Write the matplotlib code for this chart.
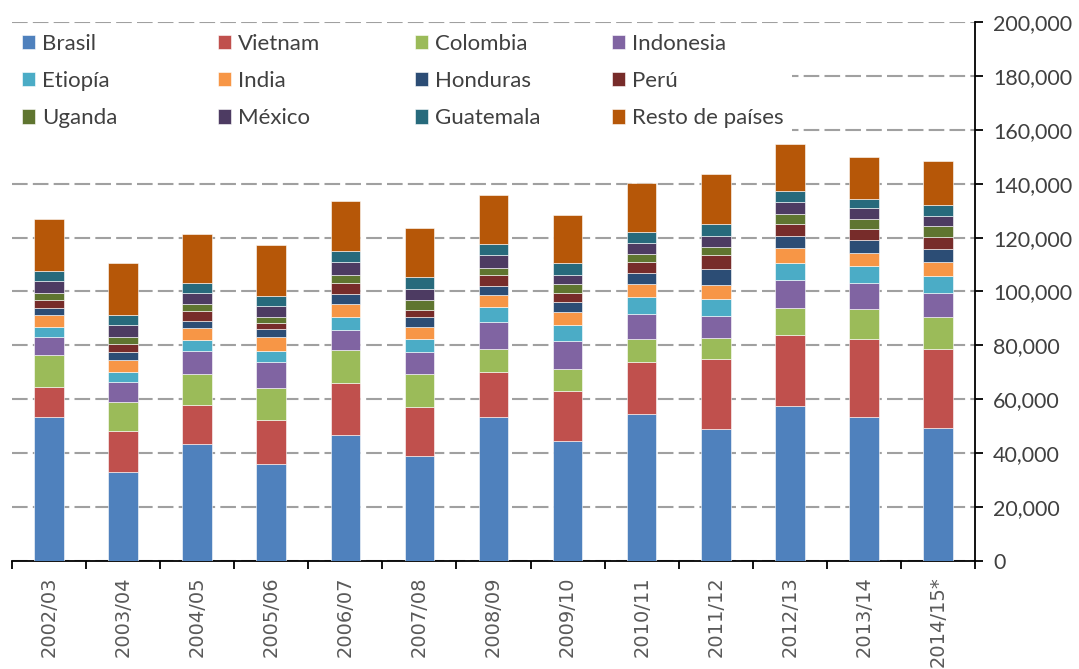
import matplotlib.pyplot as plt
import numpy as np
from matplotlib.ticker import FuncFormatter, MultipleLocator
from matplotlib.patches import Rectangle

# campañas
campanas = ['2002/03', '2003/04', '2004/05', '2005/06', '2006/07', '2007/08', '2008/09',
            '2009/10', '2010/11', '2011/12', '2012/13', '2013/14', '2014/15*']

# producción por país (miles de sacos)
brasil = [53.4, 33.1, 43.4, 36.0, 46.6, 39.0, 53.3, 44.6, 54.5, 49.1, 57.4, 53.5, 49.4]
vietnam = [11.2, 15.0, 14.5, 16.2, 19.3, 18.0, 16.8, 18.6, 19.2, 26.0, 26.5, 29.0, 29.1]
colombia = [11.8, 11.0, 11.6, 12.0, 12.4, 12.5, 8.6, 8.0, 8.7, 7.6, 9.8, 11.0, 12.1]
indonesia = [6.7, 7.2, 8.3, 9.5, 7.3, 7.9, 10.1, 10.3, 9.3, 8.3, 10.7, 9.5, 8.8]
etiopia = [3.6, 3.8, 4.1, 4.3, 5.0, 5.0, 5.3, 6.2, 6.1, 6.1, 6.2, 6.3, 6.4]
india = [4.7, 4.6, 4.7, 5.0, 4.9, 4.4, 4.6, 4.8, 5.0, 5.4, 5.4, 5.1, 5.0]
honduras = [2.6, 3.0, 2.6, 3.1, 3.4, 3.7, 3.2, 3.5, 4.1, 6.0, 4.6, 4.8, 5.0]
peru = [2.8, 2.8, 3.4, 2.1, 4.4, 2.7, 4.1, 3.3, 4.0, 4.9, 4.3, 4.0, 4.5]
uganda = [2.6, 2.8, 2.8, 2.4, 2.9, 3.8, 2.9, 3.3, 3.1, 3.2, 3.7, 3.8, 3.9]
mexico = [4.5, 4.1, 3.9, 4.2, 4.7, 4.0, 4.5, 3.5, 4.0, 4.0, 4.6, 3.8, 4.0]
guatemala = [3.7, 3.7, 3.9, 3.6, 4.0, 4.2, 4.2, 4.5, 4.1, 4.6, 4.1, 3.5, 3.8]
resto = [19.3, 19.6, 18.2, 19.0, 18.7, 18.5, 18.3, 17.8, 18.2, 18.5, 17.5, 15.7, 16.4]

paises = ['Brasil', 'Vietnam', 'Colombia', 'Indonesia', 'Etiopía', 'India',
          'Honduras', 'Perú', 'Uganda', 'México', 'Guatemala', 'Resto de países']
series = [brasil, vietnam, colombia, indonesia, etiopia, india,
          honduras, peru, uganda, mexico, guatemala, resto]
colores = ['#4F81BD', '#C0504D', '#9BBB59', '#8064A2', '#4BACC6', '#F79646',
           '#2C4D75', '#772C2A', '#5F7530', '#4D3B62', '#276A7C', '#B65708']

plt.rcParams['font.family'] = ['Lato', 'DejaVu Sans']

W, H = 1079, 669
fig = plt.figure(figsize=(W / 100, H / 100), dpi=100)
ax = fig.add_axes([12 / W, 1 - 561 / H, (975 - 12) / W, (561 - 22) / H])

x = np.arange(len(campanas))
base = np.zeros(len(campanas))
barras = []
for nombre, vals, col in zip(paises, series, colores):
    v = np.array(vals) * 1000
    b = ax.bar(x, v, 0.40, bottom=base, color=col, edgecolor='white',
               linewidth=0.4, label=nombre, zorder=3)
    barras.append(b)
    base += v

ax.set_xlim(-0.5, len(campanas) - 0.5)
ax.set_ylim(0, 200000)

ax.yaxis.tick_right()
ax.yaxis.set_major_locator(MultipleLocator(20000))
ax.yaxis.set_major_formatter(FuncFormatter(lambda v, p: '{:,.0f}'.format(v)))
ax.tick_params(axis='y', direction='out', length=6, width=1.3, colors='black',
               labelsize=15.5, labelcolor='#404040', pad=7)

ax.set_xticks(x)
ax.set_xticklabels(campanas, rotation=90, fontsize=14, color='#595959',
                   family=['DejaVu Sans'])
ax.set_xticks(np.arange(-0.5, len(campanas)), minor=True)
ax.tick_params(axis='x', which='major', length=0, pad=11)
ax.tick_params(axis='x', which='minor', direction='out', length=6, width=1.3)

ax.grid(axis='y', color='#A0A0A0', linestyle=(0, (7.5, 2.5)), linewidth=1.5, zorder=0)

for s in ['left', 'top']:
    ax.spines[s].set_visible(False)
ax.spines['right'].set_linewidth(1.3)
ax.spines['bottom'].set_linewidth(1.3)

# fondo blanco de la leyenda (tapa la rejilla)
fig.patches.append(Rectangle((0, 1 - 142 / H), 792 / W, 112 / H,
                             transform=fig.transFigure, facecolor='white',
                             edgecolor='none', zorder=4))

# leyenda por filas: una leyenda por columna
col_x = [22, 218, 415, 612]
for c in range(4):
    idx = [c, c + 4, c + 8]
    leg = fig.legend([barras[i] for i in idx], [paises[i] for i in idx],
                     loc='center left', bbox_to_anchor=(col_x[c] / W, 1 - 81 / H),
                     frameon=False, fontsize=16, handlelength=0.6,
                     handleheight=0.6, handletextpad=0.3, labelspacing=0.78,
                     borderpad=0, borderaxespad=0, labelcolor='#404040')
    leg.set_zorder(5)

fig.savefig('out.png', dpi=100)
